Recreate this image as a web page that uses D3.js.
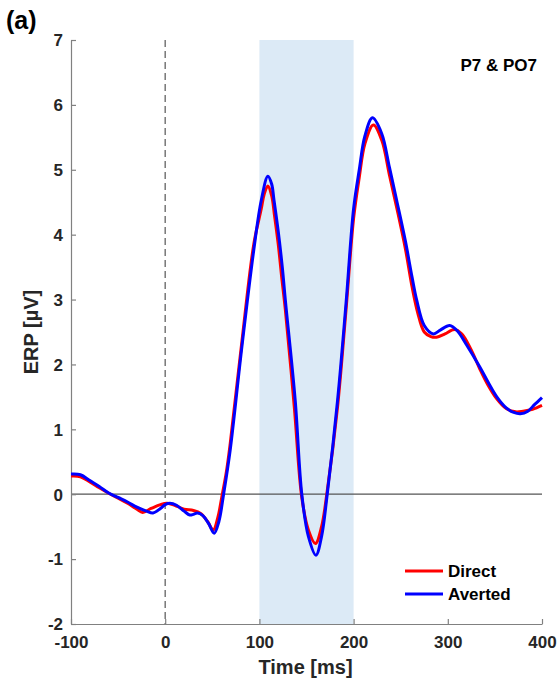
<!DOCTYPE html>
<html>
<head>
<meta charset="utf-8">
<script src="https://cdn.jsdelivr.net/npm/d3@7"></script>
<style>
  body { margin: 0; background: #fff; }
  svg { display: block; font-family: "Liberation Sans", Arial, sans-serif; font-weight: bold; }
</style>
</head>
<body>
<svg id="chart" width="560" height="693"></svg>
<script>
// ---- data ----
const xTicks = [-100, 0, 100, 200, 300, 400]
const yTicks = [-2, -1, 0, 1, 2, 3, 4, 5, 6, 7]
const window0 = [100, 200]   // shaded window, ms

const directT = [-100,-90,-80,-70,-58,-50,-40,-30,-24,-15,-5,2,10,20,30,38,45,51,56,60,65,69,81,94,102,105,109,113,116,120,124,127.5,137,145,152,159.5,166,172,183,192,200,206,212,221,230,238,246,255,262,268,275,282,288,297,307,315,325,334,342,352,362,372,380,390,400]
const directV = [0.28,0.27,0.19,0.1,0,-0.06,-0.14,-0.23,-0.28,-0.22,-0.16,-0.14,-0.17,-0.23,-0.25,-0.3,-0.42,-0.55,-0.35,-0.05,0.35,0.78,2.3,3.85,4.4,4.62,4.75,4.6,4.3,3.85,3.3,2.85,1.35,-0.05,-0.55,-0.76,-0.5,0.05,1.35,2.85,4.25,4.88,5.4,5.69,5.45,4.92,4.4,3.78,3.2,2.8,2.5,2.43,2.42,2.47,2.54,2.47,2.22,1.93,1.7,1.47,1.32,1.27,1.28,1.31,1.37]

const avertedT = [-100,-90,-80,-70,-60,-50,-40,-30,-20,-13,-5,0,5,12,20,26,30,34,40,46,52,57,62,69,81,94,102,109,113,115.5,120,124.3,127.5,138,145,152,160,166,172,183,192,200,206,212,220,229.8,238,245.7,255,262,267,275,284.6,292,302,310,320,334,343,352,362,370,377,385,392,400]
const avertedV = [0.31,0.3,0.21,0.12,0.02,-0.05,-0.12,-0.2,-0.26,-0.29,-0.22,-0.16,-0.14,-0.17,-0.26,-0.32,-0.31,-0.29,-0.33,-0.45,-0.6,-0.42,0,0.68,2.22,3.76,4.53,4.9,4.78,4.53,4.05,3.5,3.0,1.45,0,-0.65,-0.94,-0.65,0,1.45,2.95,4.4,5.0,5.52,5.8,5.56,5.04,4.53,3.9,3.35,2.99,2.6,2.47,2.53,2.6,2.52,2.3,1.96,1.72,1.5,1.33,1.26,1.24,1.28,1.38,1.49]

const series = [
  { name: "Direct",  color: "#ff0000", t: directT,  v: directV },
  { name: "Averted", color: "#0000ff", t: avertedT, v: avertedV }
]

// ---- layout ----
const margin = { top: 40, left: 71, right: 18, bottom: 69 }
const W = 560, H = 693
const width = W - margin.left - margin.right
const height = H - margin.top - margin.bottom

const svg = d3.select("#chart")
const g = svg.append("g").attr("transform", `translate(${margin.left},${margin.top})`)

const x = d3.scaleLinear().domain([-100, 400]).range([0, width])
const y = d3.scaleLinear().domain([-2, 7]).range([height, 0])

// shaded window
g.append("rect")
  .attr("x", x(window0[0]))
  .attr("y", 0)
  .attr("width", x(window0[1]) - x(window0[0]))
  .attr("height", height)
  .attr("fill", "#dceaf6")

// zero line
g.append("line")
  .attr("x1", 0).attr("x2", width)
  .attr("y1", y(0)).attr("y2", y(0))
  .attr("stroke", "#555").attr("stroke-width", 1.2)

// stimulus onset
g.append("line")
  .attr("x1", x(0)).attr("x2", x(0))
  .attr("y1", 0).attr("y2", height)
  .attr("stroke", "#777").attr("stroke-width", 1.5)
  .attr("stroke-dasharray", "7,4")

// axes, ticks pointing inward, plain hyphen for negatives
const fmt = d => String(d)
const xAxis = g.append("g")
  .attr("transform", `translate(0,${height})`)
  .call(d3.axisBottom(x).tickValues(xTicks).tickFormat(fmt).tickSizeInner(-5).tickSizeOuter(0).tickPadding(12))
const yAxis = g.append("g")
  .call(d3.axisLeft(y).tickValues(yTicks).tickFormat(fmt).tickSizeInner(-5).tickSizeOuter(0).tickPadding(8))

;[xAxis, yAxis].forEach(a => {
  a.select(".domain").attr("stroke", "#808080").attr("stroke-width", 1.2)
  a.selectAll(".tick line").attr("stroke", "#808080").attr("stroke-width", 1.2)
  a.selectAll(".tick text")
    .attr("fill", "#262626")
    .attr("font-size", "17px")
    .attr("font-weight", "bold")
    .attr("font-family", "Liberation Sans, Arial, sans-serif")
})
yAxis.selectAll(".tick text").attr("dy", "0.34em")

// curves
const line = d3.line()
  .x(d => x(d[0]))
  .y(d => y(d[1]))
  .curve(d3.curveCatmullRom.alpha(0.5))

series.forEach(s => {
  g.append("path")
    .datum(s.t.map((t, i) => [t, s.v[i]]))
    .attr("d", line)
    .attr("fill", "none")
    .attr("stroke", s.color)
    .attr("stroke-width", 3)
    .attr("stroke-linejoin", "round")
})

// axis labels
svg.append("text")
  .attr("x", margin.left + x(150) - 1)
  .attr("y", 674)
  .attr("text-anchor", "middle")
  .attr("font-size", "20px")
  .attr("fill", "#262626")
  .text("Time [ms]")

svg.append("text")
  .attr("transform", `translate(38,${margin.top + y(2.5)}) rotate(-90)`)
  .attr("text-anchor", "middle")
  .attr("font-size", "20px")
  .attr("fill", "#262626")
  .text("ERP [µV]")

// channel label
svg.append("text")
  .attr("x", 537)
  .attr("y", 71)
  .attr("text-anchor", "end")
  .attr("font-size", "17px")
  .attr("fill", "#000")
  .text("P7 & PO7")

// panel label
svg.append("text")
  .attr("x", 6)
  .attr("y", 29)
  .attr("font-size", "25px")
  .attr("fill", "#000")
  .text("(a)")

// legend
const legend = svg.append("g").attr("transform", "translate(405,571)")
series.forEach((s, i) => {
  legend.append("line")
    .attr("x1", 0).attr("x2", 38)
    .attr("y1", i * 23).attr("y2", i * 23)
    .attr("stroke", s.color).attr("stroke-width", 3)
  legend.append("text")
    .attr("x", 43)
    .attr("y", i * 23 + 6)
    .attr("font-size", "17px")
    .attr("fill", "#000")
    .text(s.name)
})
</script>
</body>
</html>
